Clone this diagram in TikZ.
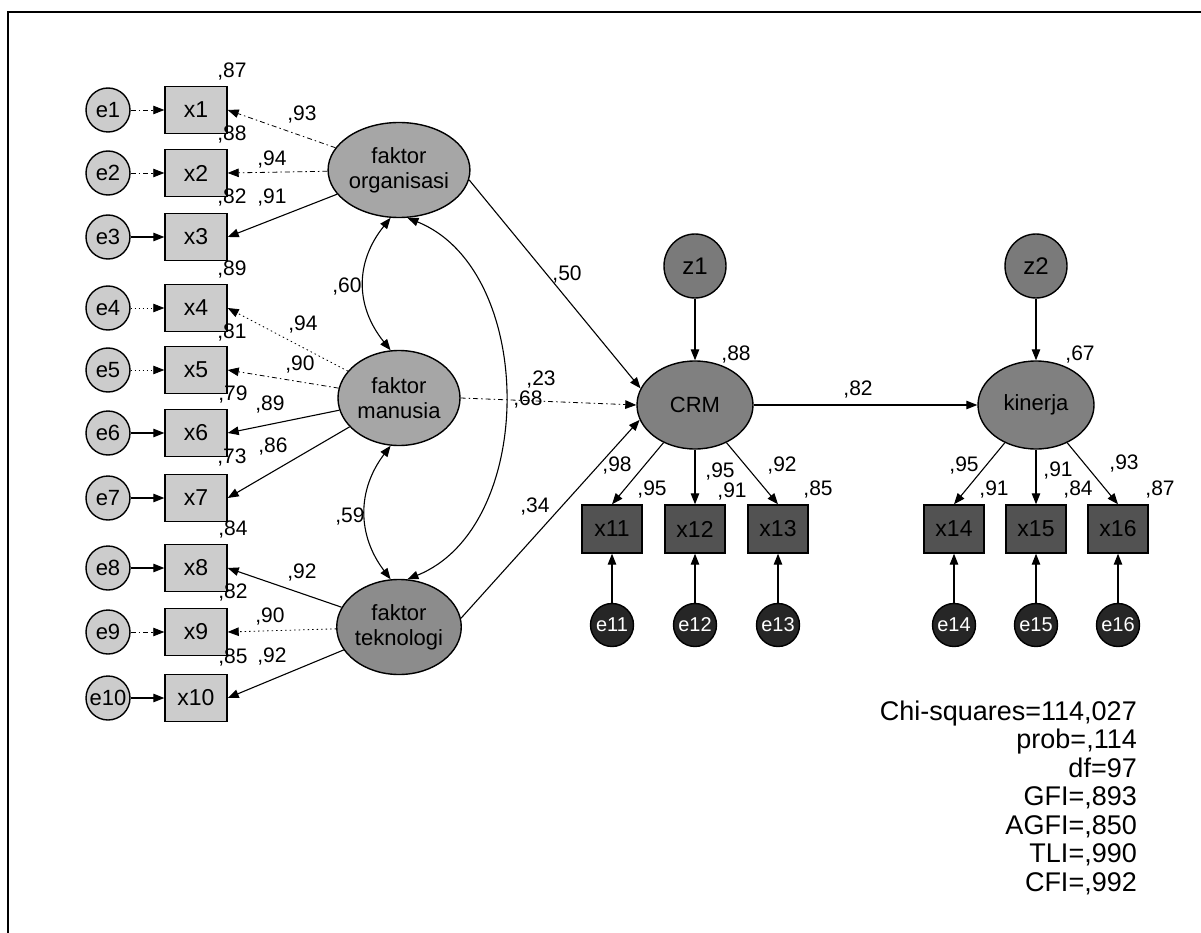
\documentclass[tikz,border=0pt]{standalone}
\usepackage{fontspec}
\setmainfont{Liberation Sans}
\usetikzlibrary{shapes.geometric,arrows.meta}
\tikzset{
  tip/.tip={Triangle[length=11pt,width=8.5pt]},
  err/.style={circle, draw, line width=1.4pt, fill=black!20, minimum size=44pt, inner sep=0pt, font=\fontsize{22}{22}\selectfont},
  obs/.style={rectangle, draw, line width=1.4pt, fill=black!20, minimum width=62pt, minimum height=47pt, inner sep=0pt, font=\fontsize{23}{23}\selectfont},
  lat/.style={ellipse, draw, line width=1.4pt, fill=black!35, minimum width=122pt, minimum height=95pt, inner sep=0pt, align=center, font=\fontsize{22}{25}\selectfont},
  endo/.style={ellipse, draw, line width=1.4pt, fill=black!50, minimum width=116pt, minimum height=88pt, inner sep=0pt, font=\fontsize{22}{22}\selectfont},
  dist/.style={ellipse, draw, line width=1.4pt, fill=black!52, minimum width=62pt, minimum height=64pt, inner sep=0pt, font=\fontsize{24}{24}\selectfont},
  dobs/.style={rectangle, draw, line width=1.4pt, fill=black!68, minimum width=60pt, minimum height=48pt, inner sep=0pt, font=\fontsize{23}{23}\selectfont},
  derr/.style={circle, draw, line width=1.4pt, fill=black!85, text=white, minimum size=43pt, inner sep=0pt, font=\fontsize{20}{20}\selectfont},
  arr/.style={-tip, line width=1.1pt},
  faint/.style={-tip, line width=0.8pt, dash pattern=on 5pt off 3pt on 1.5pt off 3pt},
  cov/.style={tip-tip, line width=1.1pt},
  lab/.style={font=\fontsize{21}{21}\selectfont, inner sep=0pt},
  stat/.style={font=\fontsize{27}{27}\selectfont, inner sep=0pt, anchor=base east},
}
\begin{document}
\begin{tikzpicture}[x=1pt,y=-1pt]
\useasboundingbox (0,0) rectangle (1201,933);
% frame
\draw[line width=2.5pt] (1201,12) -- (8,12) -- (8,933);

% left column
\foreach \i/\y in {1/110,2/173,3/237,4/308,5/370,6/433,7/498,8/568,9/632,10/698}{
  \node[err] (e\i) at (108,\y) {e\i};
  \node[obs] (x\i) at (196,\y) {x\i};
}
% latent exogenous
\node[lat] (fo) at (399,170) {faktor\\organisasi};
\node[lat] (fm) at (399,398) {faktor\\manusia};
\node[lat, fill=black!45] (ft) at (399,627) {faktor\\teknologi};

% endogenous
\node[endo] (crm) at (695,405) {CRM};
\node[endo] (kin) at (1036,405) {kinerja};
\node[dist] (z1) at (695,266) {z1};
\node[dist] (z2) at (1036,266) {z2};

\foreach \i/\x in {11/612,12/695,13/778,14/954,15/1036,16/1118}{
  \node[dobs] (x\i) at (\x,529) {x\i};
  \node[derr] (e\i) at (\x,625) {e\i};
  \draw[arr] (e\i) -- (x\i);
}

% error -> indicator arrows
\draw[faint] (e1) -- (x1);
\draw[faint] (e2) -- (x2);
\draw[arr] (e3) -- (x3);
\draw[faint, dash pattern=on 1pt off 3pt] (e4) -- (x4);
\draw[faint, dash pattern=on 1pt off 3pt] (e5) -- (x5);
\draw[arr] (e6) -- (x6);
\draw[arr] (e7) -- (x7);
\draw[arr] (e8) -- (x8);
\draw[faint] (e9) -- (x9);
\draw[arr] (e10) -- (x10);

% loadings
\draw[faint] (fo) -- (x1.east);
\draw[faint] (fo) -- (x2.east);
\draw[arr] (fo) -- (x3.east);
\draw[faint, dash pattern=on 1.5pt off 3pt] (fm) -- (x4.east);
\draw[faint] (fm) -- (x5.east);
\draw[arr] (fm) -- (x6.east);
\draw[arr] (fm) -- (x7.east);
\draw[arr] (ft) -- (x8.east);
\draw[faint, dash pattern=on 1.5pt off 3pt] (ft) -- (x9.east);
\draw[arr] (ft) -- (x10.east);

% covariances
\draw[cov] (fo.260) .. controls (355,262) and (355,306) .. (fm.100);
\draw[cov] (fm.260) .. controls (357,490) and (357,535) .. (ft.100);
\draw[cov] (fo.280) .. controls (537,270) and (537,527) .. (ft.80);

% structural paths
\draw[arr] (fo.-8) -- (crm.163);
\draw[faint] (fm.east) -- (crm.180);
\draw[arr] (ft.8) -- (crm.195);
\draw[arr] (z1) -- (crm);
\draw[arr] (z2) -- (kin);
\draw[arr] (crm) -- (kin);
\draw[arr] (crm) -- (x11.north);
\draw[arr] (crm) -- (x12.north);
\draw[arr] (crm) -- (x13.north);
\draw[arr] (kin) -- (x14.north);
\draw[arr] (kin) -- (x15.north);
\draw[arr] (kin) -- (x16.north);

% R2 labels left
\node[lab] (r1) at (232,72) {,87};
\node[lab] (r2) at (232,135) {,88};
\node[lab] (r3) at (232,198) {,82};
\node[lab] (r4) at (232,270) {,89};
\node[lab] (r5) at (232,333) {,81};
\node[lab] (r6) at (233,395) {,79};
\node[lab] (r7) at (232,458) {,73};
\node[lab] (r8) at (233,530) {,84};
\node[lab] (r9) at (233,593) {,82};
\node[lab] (r10) at (233,658) {,85};
% loading labels
\node[lab] (p1) at (302,115) {,93};
\node[lab] (p2) at (272,160) {,94};
\node[lab] (p3) at (272,198) {,91};
\node[lab] (p4) at (303,325) {,94};
\node[lab] (p5) at (300,365) {,90};
\node[lab] (p6) at (270,405) {,89};
\node[lab] (p7) at (273,447) {,86};
\node[lab] (p8) at (302,573) {,92};
\node[lab] (p9) at (270,617) {,90};
\node[lab] (p10) at (272,657) {,92};
% correlations
\node[lab] (c1) at (347,287) {,60};
\node[lab] (c2) at (350,517) {,59};
\node[lab] (c3) at (528,400) {,68};
% structural labels
\node[lab] (s50) at (567,275) {,50};
\node[lab] (s23) at (541,380) {,23};
\node[lab] (s34) at (535,507) {,34};
\node[lab] (s82) at (858,390) {,82};
\node[lab] (rc) at (736,355) {,88};
\node[lab] (rk) at (1080,355) {,67};
% right labels
\node[lab] (q1) at (617,466) {,98};
\node[lab] (q2) at (652,490) {,95};
\node[lab] (q3) at (720,472) {,95};
\node[lab] (q4) at (732,492) {,91};
\node[lab] (q5) at (782,466) {,92};
\node[lab] (q6) at (818,490) {,85};
\node[lab] (q7) at (964,466) {,95};
\node[lab] (q8) at (994,490) {,91};
\node[lab] (q9) at (1058,471) {,91};
\node[lab] (q10) at (1078,490) {,84};
\node[lab] (q11) at (1124,464) {,93};
\node[lab] (q12) at (1160,490) {,87};

% fit statistics
\node[stat] (f1) at (1137,720) {Chi-squares=114,027};
\node[stat] (f2) at (1137,748.5) {prob=,114};
\node[stat] (f3) at (1137,777) {df=97};
\node[stat] (f4) at (1137,805.5) {GFI=,893};
\node[stat] (f5) at (1137,834) {AGFI=,850};
\node[stat] (f6) at (1137,862.5) {TLI=,990};
\node[stat] (f7) at (1137,891) {CFI=,992};
\end{tikzpicture}
\end{document}
